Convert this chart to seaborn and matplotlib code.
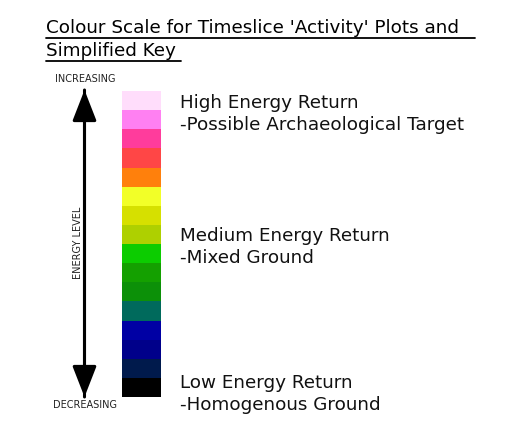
import numpy as np
import pandas as pd
import matplotlib
matplotlib.use("Agg")
import matplotlib.pyplot as plt
from matplotlib.colors import ListedColormap
from matplotlib.lines import Line2D
import seaborn as sns

sns.set_style("white")
plt.rcParams["font.family"] = ["DejaVu Sans"]

# colour scale, top (highest energy) to bottom (lowest energy)
level_colours = [
    "#FFDDFB", "#FF80F2", "#FF3C9C", "#FF4646", "#FF800C", "#F2FF28",
    "#D6E000", "#AED000", "#0CCC00", "#14A000", "#0C9008", "#006A5C",
    "#0000A4", "#00008A", "#001A4C", "#000000",
]
levels = list(range(len(level_colours)))

title_lines = ["Colour Scale for Timeslice 'Activity' Plots and ", "Simplified Key"]
key_labels = [
    ("High Energy Return", "-Possible Archaeological Target"),
    ("Medium Energy Return", "-Mixed Ground"),
    ("Low Energy Return", "-Homogenous Ground"),
]

W, H = 509, 428
fig = plt.figure(figsize=(W / 100, H / 100), dpi=100)

# the colour bar itself
ax = fig.add_axes([122 / W, 1 - 397 / H, 39 / W, 306 / H])
df = pd.DataFrame({"level": levels})
sns.heatmap(df, cmap=ListedColormap(level_colours), cbar=False,
            xticklabels=False, yticklabels=False, ax=ax)
ax.set_xlabel("")
ax.set_ylabel("")

# overlay for arrow + annotations in pixel coords
ov = fig.add_axes([0, 0, 1, 1])
ov.set_xlim(0, W)
ov.set_ylim(H, 0)
ov.axis("off")

head = dict(arrowstyle="-|>,head_length=0.95,head_width=0.37",
            lw=2.2, color="black", mutation_scale=20, shrinkA=0, shrinkB=0)
ov.annotate("", xy=(84.5, 90), xytext=(84.5, 397), arrowprops=head)
ov.annotate("", xy=(84.5, 397), xytext=(84.5, 90), arrowprops=head)

small = dict(fontsize=7, color="#222222", ha="center", va="center")
ov.text(85, 79, "INCREASING", **small)
ov.text(85, 405, "DECREASING", **small)
ov.text(78, 243, "ENERGY LEVEL", rotation=90, **small)

# title with underline
tfs = 13.2
ov.text(46, 33, title_lines[0], fontsize=tfs, va="baseline", ha="left", color="black")
ov.text(46, 56, title_lines[1], fontsize=tfs, va="baseline", ha="left", color="black")
ov.add_line(Line2D([46, 475], [37.5, 37.5], color="black", lw=1.3))
ov.add_line(Line2D([46, 181], [60.5, 60.5], color="black", lw=1.3))

# key labels
key_y = [103, 236, 383]
for (head_txt, sub), y in zip(key_labels, key_y):
    ov.text(180, y, head_txt, fontsize=tfs, va="center", ha="left", color="#111111")
    ov.text(180, y + 22, sub, fontsize=tfs, va="center", ha="left", color="#111111")

fig.savefig("out.png", dpi=100, facecolor="white")
